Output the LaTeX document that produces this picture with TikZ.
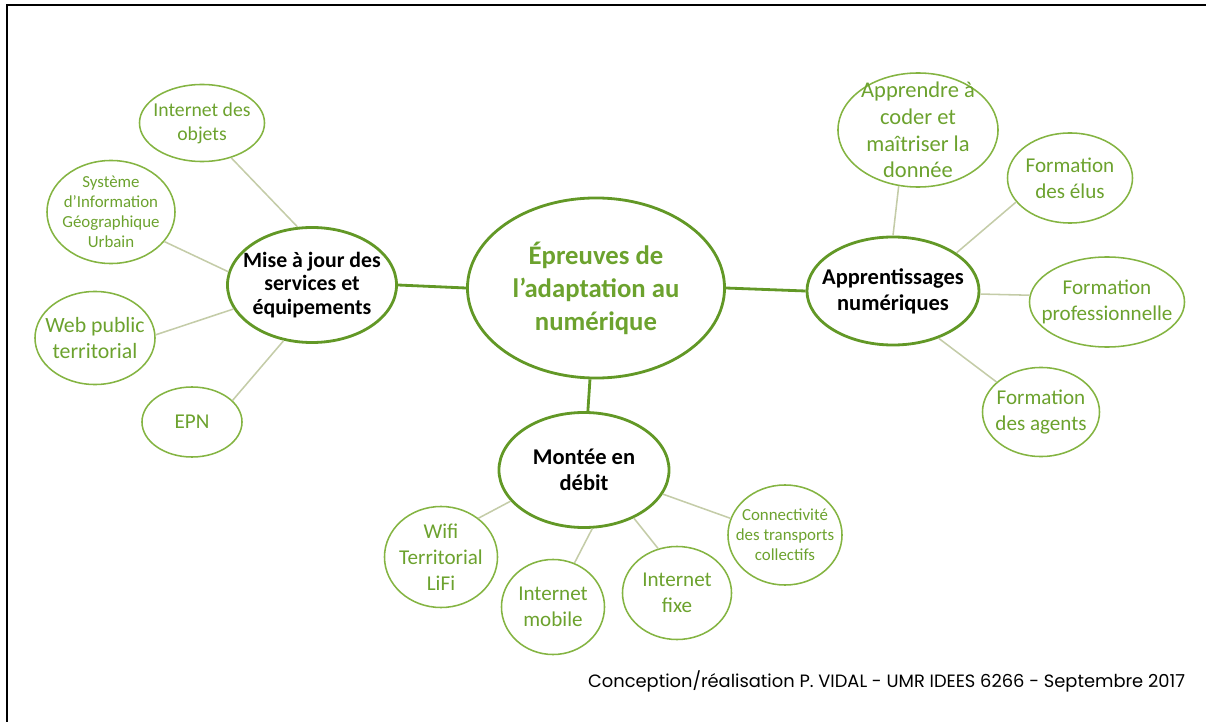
\documentclass[tikz,border=0pt]{standalone}
\usepackage{fontspec}
\setmainfont{Carlito}
\newfontfamily\footfont{Poppins}
\usetikzlibrary{shapes.geometric}
\definecolor{stemgreen}{RGB}{98,152,38}
\definecolor{leafgreen}{RGB}{132,180,66}
\definecolor{textgreen}{RGB}{108,162,46}
\definecolor{twiggrey}{RGB}{196,204,168}
\tikzset{
	hub/.style={ellipse, draw=stemgreen, line width=2pt, inner sep=0pt},
	topic/.style={ellipse, draw=stemgreen, line width=2pt, inner sep=0pt},
	item/.style={ellipse, draw=leafgreen, line width=1.1pt, inner sep=0pt},
	hubtext/.style={align=center, text=textgreen, font=\bfseries\fontsize{19pt}{23.5pt}\selectfont},
	topictext/.style={align=center, text=black, font=\bfseries\fontsize{16pt}{18.5pt}\selectfont},
	itemtext/.style={align=center, text=textgreen, font=\fontsize{15pt}{18.5pt}\selectfont},
	smalltext/.style={align=center, text=textgreen, font=\fontsize{12pt}{14.3pt}\selectfont},
	branch/.style={draw=stemgreen, line width=2pt},
	twig/.style={draw=twiggrey, line width=1.1pt}
}
\begin{document}
\begin{tikzpicture}[x=0.025cm, y=-0.025cm]
	\useasboundingbox (0,0) rectangle (1206,722);
	\draw[line width=2pt] (7,722) -- (7,5) -- (1206,5);

	% Centre
	\node[hub, minimum width=6.425cm, minimum height=4.5cm,
		label={[hubtext]center:{Épreuves de\\l’adaptation au\\numérique}}] (centre) at (596,288) {};

	% Main topics
	\node[topic, minimum width=4.225cm, minimum height=2.875cm,
		label={[topictext, font=\bfseries\fontsize{15.5pt}{16.8pt}\selectfont]center:{Mise à jour des\\services et\\équipements}}] (mise) at (312,285) {};
	\node[topic, minimum width=4.3cm, minimum height=2.7cm,
		label={[topictext]center:{Apprentissages\\numériques}}] (appr) at (893,291) {};
	\node[topic, minimum width=4.25cm, minimum height=2.875cm,
		label={[topictext]center:{Montée en\\débit}}] (montee) at (584,470) {};

	\draw[branch] (centre.west) -- (mise.east);
	\draw[branch] (centre.east) -- (appr.west);
	\draw[branch] (centre) -- (montee);

	% Services et equipements
	\node[item, minimum width=3.125cm, minimum height=1.925cm,
		label={[itemtext, font=\fontsize{14pt}{17pt}\selectfont]center:{Internet des\\objets}}] (objets) at (202,123) {};
	\node[item, minimum width=3.2cm, minimum height=2.575cm,
		label={[smalltext]center:{Système\\d’Information\\Géographique\\Urbain}}] (sig) at (111,212) {};
	\node[item, minimum width=3cm, minimum height=2.325cm,
		label={[itemtext, font=\fontsize{15.5pt}{19pt}\selectfont]center:{Web public\\territorial}}] (web) at (95,338) {};
	\node[item, minimum width=2.5cm, minimum height=1.75cm,
		label={[itemtext]center:{EPN}}] (epn) at (192,422) {};

	\draw[twig] (objets.-50) -- (mise.104);
	\draw[twig] (sig.-29) -- (mise.171);
	\draw[twig] (web.3) -- (mise.-163);
	\draw[twig] (epn.28) -- (mise.-117);

	% Apprentissages
	\node[item, minimum width=4cm, minimum height=2.85cm,
		label={[itemtext, font=\fontsize{16pt}{19pt}\selectfont]center:{Apprendre à\\coder et\\maîtriser la\\donnée}}] (coder) at (918,130) {};
	\node[item, minimum width=3.125cm, minimum height=2.25cm,
		label={[itemtext]center:{Formation\\des élus}}] (elus) at (1070,178) {};
	\node[item, minimum width=3.875cm, minimum height=2.25cm,
		label={[itemtext]center:{Formation\\professionnelle}}] (pro) at (1107,302) {};
	\node[item, minimum width=2.925cm, minimum height=2.225cm,
		label={[itemtext]center:{Formation\\des agents}}] (agents) at (1041,412) {};

	\draw[twig] (coder.-109) -- (appr.90);
	\draw[twig] (elus.-156) -- (appr.31);
	\draw[twig] (pro.175) -- (appr.-2);
	\draw[twig] (agents.146) -- (appr.-46);

	% Debit
	\node[item, minimum width=2.825cm, minimum height=2.525cm,
		label={[itemtext]center:{Wifi\\Territorial\\LiFi}}] (wifi) at (441,557) {};
	\node[item, minimum width=2.575cm, minimum height=2.375cm,
		label={[itemtext]center:{Internet\\mobile}}] (mobile) at (553,607) {};
	\node[item, minimum width=2.725cm, minimum height=2.325cm,
		label={[itemtext]center:{Internet\\fixe}}] (fixe) at (677,593) {};
	\node[item, minimum width=2.85cm, minimum height=2.5cm,
		label={[smalltext]center:{Connectivité\\des transports\\collectifs}}] (transports) at (785,535) {};

	\draw[twig] (wifi.46) -- (montee.-157);
	\draw[twig] (mobile.64) -- (montee.-82);
	\draw[twig] (fixe.113) -- (montee.-44);
	\draw[twig] (transports.163) -- (montee.-17);

	\node[anchor=east, font=\footfont\fontsize{12.7pt}{14pt}\selectfont] (credit) at (1190,681)
		{Conception/réalisation P. VIDAL - UMR IDEES 6266 - Septembre 2017};
\end{tikzpicture}
\end{document}
